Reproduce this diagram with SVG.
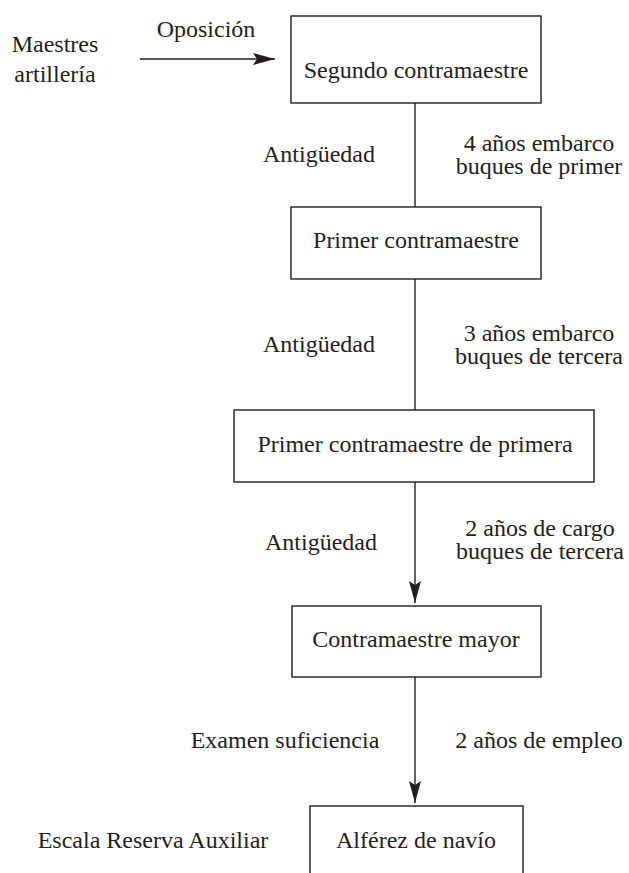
<svg xmlns="http://www.w3.org/2000/svg" width="629" height="873" viewBox="0 0 629 873">
  <style>
    text { font-family: "Liberation Serif", "Times New Roman", "DejaVu Serif", serif; font-size: 24px; fill: #231f20; }
    .c { text-anchor: middle; }
    .box { fill: #ffffff; stroke: #231f20; stroke-width: 1.4; }
    .ln { stroke: #231f20; stroke-width: 1.4; fill: none; }
  </style>
  <defs>
    <marker id="arr" markerUnits="userSpaceOnUse" markerWidth="24" markerHeight="14" refX="22" refY="6" orient="auto">
      <path d="M0,0 L22,6 L0,12 L4,6 Z" fill="#231f20"/>
    </marker>
  </defs>
  <rect width="629" height="873" fill="#ffffff"/>

  <g id="connectors">
    <line class="ln" x1="140" y1="59" x2="275" y2="59" marker-end="url(#arr)"/>
    <line class="ln" x1="415" y1="103" x2="415" y2="207"/>
    <line class="ln" x1="415" y1="279" x2="415" y2="410"/>
    <line class="ln" x1="415" y1="482" x2="415" y2="603" marker-end="url(#arr)"/>
    <line class="ln" x1="415" y1="677" x2="415" y2="803" marker-end="url(#arr)"/>
  </g>

  <g id="labels">
    <text class="c" x="55" y="52">Maestres</text>
    <text class="c" x="55" y="82">artillería</text>
    <text class="c" x="206" y="37">Oposición</text>
    <text class="c" x="319" y="162">Antigüedad</text>
    <text class="c" x="539" y="151">4 años embarco</text>
    <text class="c" x="539" y="174">buques de primer</text>
    <text class="c" x="319" y="352">Antigüedad</text>
    <text class="c" x="539" y="341">3 años embarco</text>
    <text class="c" x="539" y="364">buques de tercera</text>
    <text class="c" x="321" y="550">Antigüedad</text>
    <text class="c" x="540" y="536">2 años de cargo</text>
    <text class="c" x="540" y="559">buques de tercera</text>
    <text class="c" x="285" y="748">Examen suficiencia</text>
    <text class="c" x="539" y="748">2 años de empleo</text>
    <text class="c" x="153" y="848">Escala Reserva Auxiliar</text>
  </g>

  <g id="segundo-contramaestre">
    <rect class="box" x="291" y="16" width="250" height="87"/>
    <text class="c" x="416" y="78">Segundo contramaestre</text>
  </g>
  <g id="primer-contramaestre">
    <rect class="box" x="291" y="207" width="250" height="72"/>
    <text class="c" x="416" y="248">Primer contramaestre</text>
  </g>
  <g id="primer-contramaestre-de-primera">
    <rect class="box" x="234" y="410" width="360" height="72"/>
    <text class="c" x="415" y="452">Primer contramaestre de primera</text>
  </g>
  <g id="contramaestre-mayor">
    <rect class="box" x="292" y="606" width="249" height="71"/>
    <text class="c" x="416" y="647">Contramaestre mayor</text>
  </g>
  <g id="alferez-de-navio">
    <rect class="box" x="310" y="806" width="213" height="90"/>
    <text class="c" x="416" y="848">Alférez de navío</text>
  </g>
</svg>
